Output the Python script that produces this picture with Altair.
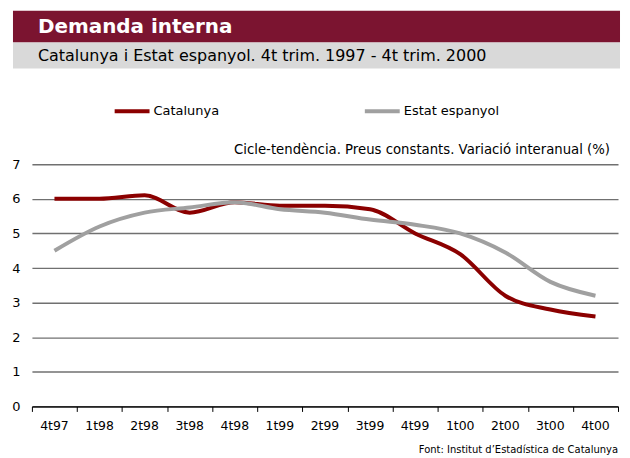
import altair as alt
import pandas as pd

quarters = ["4t97", "1t98", "2t98", "3t98", "4t98", "1t99", "2t99",
            "3t99", "4t99", "1t00", "2t00", "3t00", "4t00"]
catalunya = [6.0, 6.0, 6.1, 5.6, 5.9, 5.8, 5.8, 5.7, 5.0, 4.4, 3.2, 2.8, 2.6]
estat = [4.5, 5.2, 5.6, 5.75, 5.9, 5.7, 5.6, 5.4, 5.25, 5.0, 4.45, 3.6, 3.2]
series = ["Catalunya", "Estat espanyol"]
colors = ["#8B0000", "#A0A0A0"]

FONT = "DejaVu Sans"
W, H = 588, 243

rows = []
for i, q in enumerate(quarters):
    rows.append({"pos": i + 0.5, "q": q, "serie": series[0], "v": catalunya[i]})
    rows.append({"pos": i + 0.5, "q": q, "serie": series[1], "v": estat[i]})
df = pd.DataFrame(rows)
lab = pd.DataFrame({"pos": [i + 0.5 for i in range(len(quarters))], "q": quarters})

xscale = alt.Scale(domain=[0, 13], nice=False, zero=False)
yscale = alt.Scale(domain=[0, 7], nice=False)

lines = alt.Chart(df).mark_line(strokeWidth=4, interpolate="monotone").encode(
    x=alt.X("pos:Q", scale=xscale,
            axis=alt.Axis(values=list(range(14)), labels=False, title=None,
                          ticks=True, tickSize=5, tickColor="black",
                          domainColor="black", domainWidth=1.2, grid=False)),
    y=alt.Y("v:Q", scale=yscale,
            axis=alt.Axis(values=list(range(8)), title=None, domain=False,
                          ticks=False, grid=True, gridColor="#707070",
                          gridWidth=1.4, labelFontSize=13, labelColor="black",
                          labelFont=FONT, labelPadding=12)),
    color=alt.Color("serie:N", scale=alt.Scale(domain=series, range=colors),
                    legend=alt.Legend(title=None, orient="none", legendX=81,
                                      legendY=-73, direction="horizontal",
                                      symbolType="stroke", symbolSize=1225,
                                      symbolStrokeWidth=4, labelFontSize=13,
                                      labelFont=FONT, labelColor="black",
                                      labelOffset=2, columnPadding=138)),
)

xlabels = alt.Chart(lab).mark_text(fontSize=12.5, font=FONT, color="black",
                                   baseline="middle").encode(
    x=alt.X("pos:Q", scale=xscale), y=alt.value(H + 20), text="q:N")

banner = alt.Chart(pd.DataFrame({"a": [0]})).mark_rect(color="#7B1430").encode(
    x=alt.value(-19), x2=alt.value(590), y=alt.value(-154), y2=alt.value(-122))
band = alt.Chart(pd.DataFrame({"a": [0]})).mark_rect(color="#D9D9D9").encode(
    x=alt.value(-19), x2=alt.value(590), y=alt.value(-122), y2=alt.value(-96))
title = alt.Chart(pd.DataFrame({"t": ["Demanda interna"]})).mark_text(
    fontSize=20, fontWeight="bold", font=FONT, color="white", align="left",
    baseline="middle").encode(
    x=alt.value(6), y=alt.value(-138), text="t:N")
subtitle = alt.Chart(pd.DataFrame({"t": ["Catalunya i Estat espanyol. 4t trim. 1997 - 4t trim. 2000"]})).mark_text(
    fontSize=16, font=FONT, color="black", align="left", baseline="middle").encode(
    x=alt.value(6), y=alt.value(-109), text="t:N")
note = alt.Chart(pd.DataFrame({"t": ["Cicle-tendència. Preus constants. Variació interanual (%)"]})).mark_text(
    fontSize=13.3, font=FONT, color="black", align="right", baseline="middle").encode(
    x=alt.value(580), y=alt.value(-14), text="t:N")
source = alt.Chart(pd.DataFrame({"t": ["Font: Institut d’Estadística de Catalunya"]})).mark_text(
    fontSize=10, font=FONT, color="black", align="right", baseline="middle").encode(
    x=alt.value(W), y=alt.value(H + 44), text="t:N")

chart = alt.layer(banner, band, title, subtitle, note, lines, xlabels, source).properties(
    width=W, height=H,
    autosize=alt.AutoSizeParams(type="none"),
    padding={"left": 24, "top": 156, "right": 4, "bottom": 50},
).configure_view(stroke=None)

chart.save("out.html", embed_options={"renderer": "svg", "actions": False})
